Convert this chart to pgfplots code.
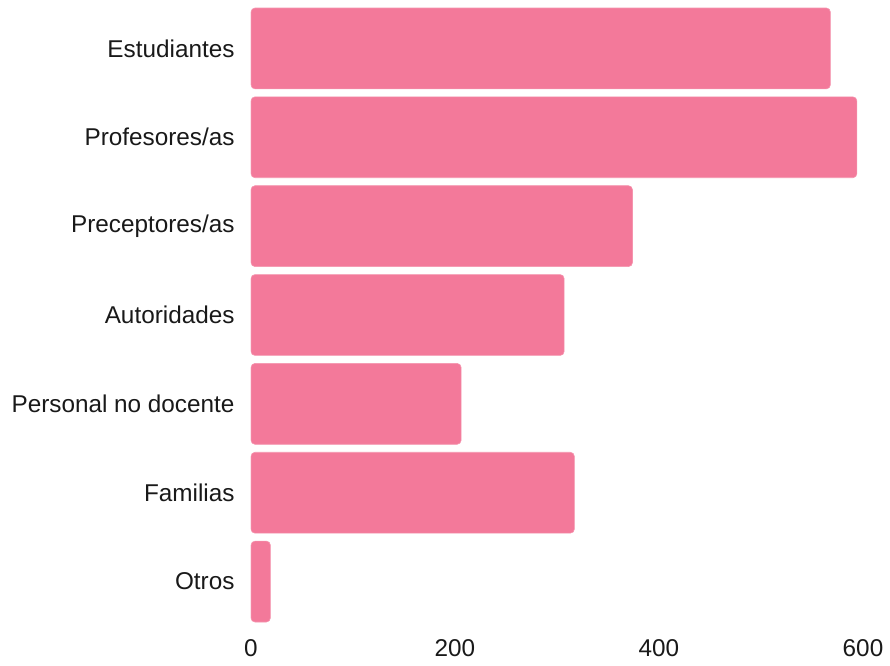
\documentclass[border=0pt]{standalone}
\usepackage{pgfplots}
\pgfplotsset{compat=1.18}
\usepackage{fontspec}
\setmainfont{Liberation Sans}
\definecolor{barpink}{HTML}{F3799A}
\begin{document}
\begin{tikzpicture}
\begin{axis}[
  scale only axis,
  width=612bp, height=622bp,
  xbar,
  bar width=0.91,
  y dir=reverse,
  ymin=-0.5, ymax=6.5,
  xmin=0, xmax=600,
  x coord trafo/.code={\pgfmathparse{#1+10}},
  x coord inv trafo/.code={\pgfmathparse{#1-10}},
  ytick={0,1,2,3,4,5,6},
  yticklabels={Estudiantes,Profesores/as,Preceptores/as,Autoridades,Personal no docente,Familias,Otros},
  xtick={0,200,400,600},
  xticklabels={0,200,400,600},
  axis line style={draw=none},
  tick style={draw=none},
  major tick length=0pt,
  ticklabel style={font=\fontsize{24.3bp}{28bp}\selectfont, text=black!90},
  yticklabel style={xshift=-13bp},
  xticklabel style={yshift=-10bp},
  /pgf/number format/assume math mode=true,
  clip=true,
]
\addplot[fill=barpink, draw=barpink!80!white, line width=0.6bp, rounded corners=4bp] coordinates {
 (568,0) (594,1) (374,2) (307,3) (206,4) (317,5) (19,6)
};
\coordinate (O) at (rel axis cs:0,0);
\end{axis}
\pgfresetboundingbox
\path[use as bounding box] (O) ++(-251bp,-40bp) rectangle ++(890bp,666bp);
\end{tikzpicture}
\end{document}
